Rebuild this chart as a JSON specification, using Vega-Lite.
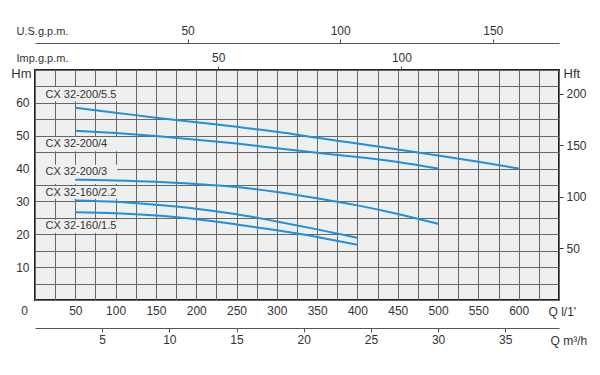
{
  "$schema": "https://vega.github.io/schema/vega-lite/v6.json",
  "width": 524,
  "height": 230,
  "autosize": {"type": "none"},
  "padding": {"left": 35, "top": 70, "right": 41, "bottom": 75},
  "background": "#ffffff",
  "config": {
    "view": {"fill": "#efefef", "stroke": "#222222", "strokeWidth": 2},
    "font": "Liberation Sans",
    "axis": {
      "labelFont": "Liberation Sans",
      "titleFont": "Liberation Sans",
      "labelColor": "#333333",
      "titleColor": "#333333",
      "titleFontWeight": "normal",
      "labelFontSize": 12,
      "titleFontSize": 12,
      "labelFlush": false,
      "labelOverlap": false,
      "tickColor": "#555555",
      "domainColor": "#555555"
    }
  },
  "datasets": {
    "curves": [
      {"model": "CX 32-200/5.5", "Q": 50, "H": 58.5},
      {"model": "CX 32-200/5.5", "Q": 100, "H": 57.0},
      {"model": "CX 32-200/5.5", "Q": 150, "H": 55.5},
      {"model": "CX 32-200/5.5", "Q": 200, "H": 54.1},
      {"model": "CX 32-200/5.5", "Q": 250, "H": 52.7},
      {"model": "CX 32-200/5.5", "Q": 300, "H": 51.2},
      {"model": "CX 32-200/5.5", "Q": 350, "H": 49.4},
      {"model": "CX 32-200/5.5", "Q": 400, "H": 47.6},
      {"model": "CX 32-200/5.5", "Q": 450, "H": 45.8},
      {"model": "CX 32-200/5.5", "Q": 500, "H": 44.0},
      {"model": "CX 32-200/5.5", "Q": 550, "H": 42.1},
      {"model": "CX 32-200/5.5", "Q": 600, "H": 40.0},
      {"model": "CX 32-200/4", "Q": 50, "H": 51.5},
      {"model": "CX 32-200/4", "Q": 100, "H": 50.8},
      {"model": "CX 32-200/4", "Q": 150, "H": 49.9},
      {"model": "CX 32-200/4", "Q": 200, "H": 48.8},
      {"model": "CX 32-200/4", "Q": 250, "H": 47.6},
      {"model": "CX 32-200/4", "Q": 300, "H": 46.2},
      {"model": "CX 32-200/4", "Q": 350, "H": 44.8},
      {"model": "CX 32-200/4", "Q": 400, "H": 43.5},
      {"model": "CX 32-200/4", "Q": 450, "H": 42.0},
      {"model": "CX 32-200/4", "Q": 500, "H": 40.0},
      {"model": "CX 32-200/3", "Q": 50, "H": 36.6},
      {"model": "CX 32-200/3", "Q": 100, "H": 36.4},
      {"model": "CX 32-200/3", "Q": 150, "H": 36.0},
      {"model": "CX 32-200/3", "Q": 200, "H": 35.3},
      {"model": "CX 32-200/3", "Q": 250, "H": 34.4},
      {"model": "CX 32-200/3", "Q": 300, "H": 32.9},
      {"model": "CX 32-200/3", "Q": 350, "H": 31.0},
      {"model": "CX 32-200/3", "Q": 400, "H": 28.8},
      {"model": "CX 32-200/3", "Q": 450, "H": 26.2},
      {"model": "CX 32-200/3", "Q": 500, "H": 23.2},
      {"model": "CX 32-160/2.2", "Q": 50, "H": 30.3},
      {"model": "CX 32-160/2.2", "Q": 100, "H": 29.9},
      {"model": "CX 32-160/2.2", "Q": 150, "H": 29.0},
      {"model": "CX 32-160/2.2", "Q": 200, "H": 27.8},
      {"model": "CX 32-160/2.2", "Q": 250, "H": 26.1},
      {"model": "CX 32-160/2.2", "Q": 300, "H": 23.9},
      {"model": "CX 32-160/2.2", "Q": 350, "H": 21.5},
      {"model": "CX 32-160/2.2", "Q": 400, "H": 18.9},
      {"model": "CX 32-160/1.5", "Q": 50, "H": 26.7},
      {"model": "CX 32-160/1.5", "Q": 100, "H": 26.4},
      {"model": "CX 32-160/1.5", "Q": 150, "H": 25.7},
      {"model": "CX 32-160/1.5", "Q": 200, "H": 24.6},
      {"model": "CX 32-160/1.5", "Q": 250, "H": 23.0},
      {"model": "CX 32-160/1.5", "Q": 300, "H": 21.2},
      {"model": "CX 32-160/1.5", "Q": 350, "H": 19.2},
      {"model": "CX 32-160/1.5", "Q": 400, "H": 16.8}
    ],
    "labels": [
      {"model": "CX 32-200/5.5", "Q": 13, "H": 62.3, "lo": 60.5, "hi": 64.8},
      {"model": "CX 32-200/4", "Q": 13, "H": 47.4, "lo": 45.3, "hi": 49.6},
      {"model": "CX 32-200/3", "Q": 13, "H": 38.9, "lo": 35.3, "hi": 41.2},
      {"model": "CX 32-160/2.2", "Q": 13, "H": 32.7, "lo": 30.8, "hi": 34.7},
      {"model": "CX 32-160/1.5", "Q": 13, "H": 22.5, "lo": 20.4, "hi": 24.4}
    ]
  },
  "layer": [
    {
      "layer": [
        {
          "data": {"name": "labels"},
          "mark": {"type": "rect", "fill": "#efefef"},
          "encoding": {
            "x": {
              "datum": 1.6,
              "type": "quantitative",
              "scale": {"domain": [0, 650], "nice": false, "zero": false},
              "axis": {
                "orient": "bottom",
                "values": [0, 25, 50, 75, 100, 125, 150, 175, 200, 225, 250, 275, 300, 325, 350, 375, 400, 425, 450, 475, 500, 525, 550, 575, 600, 625, 650],
                "labelExpr": "datum.value > 0 && datum.value < 650 && datum.value % 50 == 0 ? datum.label : (datum.value == 0 ? '0' : '')",
                "labelOffset": {"condition": {"test": "datum.value == 0", "value": -11}, "value": 0},
                "grid": true,
                "gridColor": "#666666",
                "gridWidth": 1,
                "gridOpacity": 1,
                "ticks": false,
                "domain": false,
                "labelPadding": 5,
                "title": "Q  l/1'",
                "titleX": 513,
                "titleY": 11,
                "titleAlign": "left",
                "titleBaseline": "middle",
                "titleAnchor": "start"
              }
            },
            "x2": {"datum": 102},
            "y": {
              "field": "lo",
              "type": "quantitative",
              "scale": {"domain": [0, 70], "nice": false, "zero": false},
              "axis": {
                "orient": "left",
                "values": [0, 5, 10, 15, 20, 25, 30, 35, 40, 45, 50, 55, 60, 65, 70],
                "labelExpr": "datum.value > 0 && datum.value < 70 && datum.value % 10 == 0 ? datum.label : ''",
                "grid": true,
                "gridColor": "#666666",
                "gridWidth": 1,
                "gridOpacity": 1,
                "ticks": false,
                "domain": false,
                "labelPadding": 6,
                "title": "Hm",
                "titleAngle": 0,
                "titleX": -4,
                "titleY": 3,
                "titleAlign": "right",
                "titleBaseline": "middle",
                "titleFontSize": 13
              }
            },
            "y2": {"field": "hi"}
          }
        },
        {
          "data": {"name": "curves"},
          "mark": {"type": "line", "color": "#1f8fe0", "strokeWidth": 2, "interpolate": "monotone"},
          "encoding": {
            "x": {
              "field": "Q",
              "type": "quantitative",
              "scale": {"domain": [0, 650], "nice": false, "zero": false},
              "axis": {
                "orient": "bottom",
                "values": [0, 25, 50, 75, 100, 125, 150, 175, 200, 225, 250, 275, 300, 325, 350, 375, 400, 425, 450, 475, 500, 525, 550, 575, 600, 625, 650],
                "labelExpr": "datum.value > 0 && datum.value < 650 && datum.value % 50 == 0 ? datum.label : (datum.value == 0 ? '0' : '')",
                "labelOffset": {"condition": {"test": "datum.value == 0", "value": -11}, "value": 0},
                "grid": true,
                "gridColor": "#666666",
                "gridWidth": 1,
                "gridOpacity": 1,
                "ticks": false,
                "domain": false,
                "labelPadding": 5,
                "title": "Q  l/1'",
                "titleX": 513,
                "titleY": 11,
                "titleAlign": "left",
                "titleBaseline": "middle",
                "titleAnchor": "start"
              }
            },
            "y": {
              "field": "H",
              "type": "quantitative",
              "scale": {"domain": [0, 70], "nice": false, "zero": false},
              "axis": {
                "orient": "left",
                "values": [0, 5, 10, 15, 20, 25, 30, 35, 40, 45, 50, 55, 60, 65, 70],
                "labelExpr": "datum.value > 0 && datum.value < 70 && datum.value % 10 == 0 ? datum.label : ''",
                "grid": true,
                "gridColor": "#666666",
                "gridWidth": 1,
                "gridOpacity": 1,
                "ticks": false,
                "domain": false,
                "labelPadding": 6,
                "title": "Hm",
                "titleAngle": 0,
                "titleX": -4,
                "titleY": 3,
                "titleAlign": "right",
                "titleBaseline": "middle",
                "titleFontSize": 13
              }
            },
            "detail": {"field": "model"}
          }
        },
        {
          "data": {"name": "labels"},
          "mark": {"type": "text", "align": "left", "baseline": "middle", "fontSize": 11, "color": "#333333", "font": "Liberation Sans"},
          "encoding": {
            "x": {
              "field": "Q",
              "type": "quantitative",
              "scale": {"domain": [0, 650], "nice": false, "zero": false},
              "axis": {
                "orient": "bottom",
                "values": [0, 25, 50, 75, 100, 125, 150, 175, 200, 225, 250, 275, 300, 325, 350, 375, 400, 425, 450, 475, 500, 525, 550, 575, 600, 625, 650],
                "labelExpr": "datum.value > 0 && datum.value < 650 && datum.value % 50 == 0 ? datum.label : (datum.value == 0 ? '0' : '')",
                "labelOffset": {"condition": {"test": "datum.value == 0", "value": -11}, "value": 0},
                "grid": true,
                "gridColor": "#666666",
                "gridWidth": 1,
                "gridOpacity": 1,
                "ticks": false,
                "domain": false,
                "labelPadding": 5,
                "title": "Q  l/1'",
                "titleX": 513,
                "titleY": 11,
                "titleAlign": "left",
                "titleBaseline": "middle",
                "titleAnchor": "start"
              }
            },
            "y": {
              "field": "H",
              "type": "quantitative",
              "scale": {"domain": [0, 70], "nice": false, "zero": false},
              "axis": {
                "orient": "left",
                "values": [0, 5, 10, 15, 20, 25, 30, 35, 40, 45, 50, 55, 60, 65, 70],
                "labelExpr": "datum.value > 0 && datum.value < 70 && datum.value % 10 == 0 ? datum.label : ''",
                "grid": true,
                "gridColor": "#666666",
                "gridWidth": 1,
                "gridOpacity": 1,
                "ticks": false,
                "domain": false,
                "labelPadding": 6,
                "title": "Hm",
                "titleAngle": 0,
                "titleX": -4,
                "titleY": 3,
                "titleAlign": "right",
                "titleBaseline": "middle",
                "titleFontSize": 13
              }
            },
            "text": {"field": "model"}
          }
        }
      ]
    },
    {
      "data": {"values": [{"usg": 0}, {"usg": 171.7}]},
      "mark": {"type": "point", "opacity": 0},
      "encoding": {
        "x": {
          "field": "usg",
          "type": "quantitative",
          "scale": {"domain": [0, 171.7], "nice": false, "zero": false},
          "axis": {
            "orient": "top",
            "offset": 27,
            "values": [50, 100, 150],
            "grid": false,
            "domain": true,
            "tickSize": 4,
            "labelPadding": 2,
            "title": "U.S.g.p.m.",
            "titleX": -19,
            "titleY": -12,
            "titleAlign": "left",
            "titleBaseline": "middle",
            "titleFontSize": 11
          }
        }
      }
    },
    {
      "data": {"values": [{"imp": 0}, {"imp": 143}]},
      "mark": {"type": "point", "opacity": 0},
      "encoding": {
        "x": {
          "field": "imp",
          "type": "quantitative",
          "scale": {"domain": [0, 143], "nice": false, "zero": false},
          "axis": {
            "orient": "top",
            "offset": 0,
            "values": [50, 100],
            "grid": false,
            "domain": false,
            "tickSize": 4,
            "labelPadding": 2,
            "title": "Imp.g.p.m.",
            "titleX": -19,
            "titleY": -12,
            "titleAlign": "left",
            "titleBaseline": "middle",
            "titleFontSize": 11
          }
        }
      }
    },
    {
      "data": {"values": [{"m3": 0}, {"m3": 39}]},
      "mark": {"type": "point", "opacity": 0},
      "encoding": {
        "x": {
          "field": "m3",
          "type": "quantitative",
          "scale": {"domain": [0, 39], "nice": false, "zero": false},
          "axis": {
            "orient": "bottom",
            "offset": 28,
            "values": [5, 10, 15, 20, 25, 30, 35],
            "grid": false,
            "domain": true,
            "tickSize": 4,
            "labelPadding": 2,
            "title": "Q  m³/h",
            "titleX": 515,
            "titleY": 12,
            "titleAlign": "left",
            "titleBaseline": "middle"
          }
        }
      }
    },
    {
      "data": {"values": [{"hft": 0}, {"hft": 223}]},
      "mark": {"type": "point", "opacity": 0},
      "encoding": {
        "y": {
          "field": "hft",
          "type": "quantitative",
          "scale": {"domain": [0, 223], "nice": false, "zero": false},
          "axis": {
            "orient": "right",
            "values": [50, 100, 150, 200],
            "grid": false,
            "domain": false,
            "tickSize": 4,
            "tickColor": "#333333",
            "labelPadding": 3,
            "title": "Hft",
            "titleAngle": 0,
            "titleX": 4,
            "titleY": 3,
            "titleAlign": "left",
            "titleBaseline": "middle",
            "titleFontSize": 13
          }
        }
      }
    }
  ],
  "resolve": {"scale": {"x": "independent", "y": "independent"}}
}
